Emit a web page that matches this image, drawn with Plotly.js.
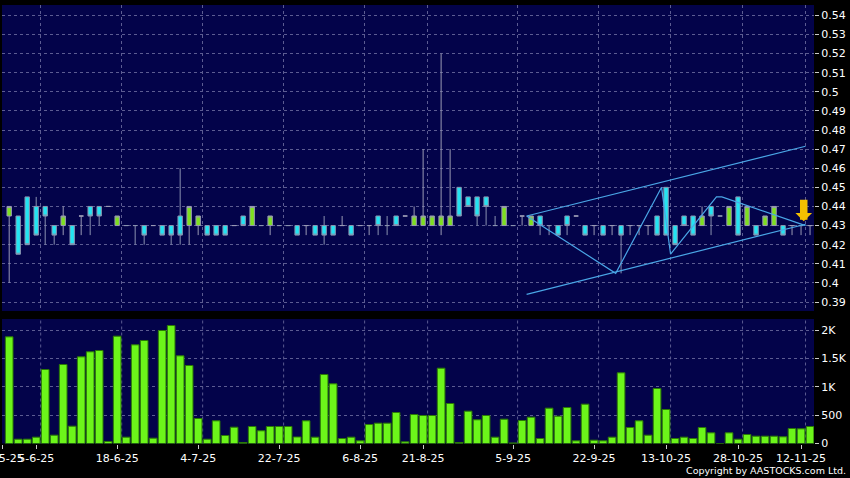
<!DOCTYPE html>
<html><head><meta charset="utf-8">
<script src="https://cdn.plot.ly/plotly-3.0.1.min.js"></script>
<style>html,body{margin:0;padding:0;background:#000;}#chart{width:850px;height:478px;}</style>
</head><body><div id="chart"></div>
<script>
// ---- data (one entry per trading session) ----
const openP  = [0.435,0.435,0.445,0.44,0.44,0.43,0.43,0.43,0.435,0.44,
                0.44,0.44,0.43,0.43,0.43,0.43,0.43,0.43,0.43,0.435,
                0.43,0.43,0.43,0.43,0.43,0.43,0.435,0.43,0.43,0.43,
                0.43,0.43,0.43,0.43,0.43,0.43,0.43,0.43,0.43,0.43,
                0.43,0.435,0.43,0.435,0.435,0.43,0.43,0.43,0.43,0.43,
                0.45,0.445,0.445,0.445,0.43,0.43,0.43,0.435,0.43,0.435,
                0.43,0.43,0.435,0.435,0.43,0.43,0.43,0.43,0.43,0.43,
                0.43,0.43,0.435,0.45,0.43,0.435,0.435,0.43,0.44,0.435,
                0.43,0.445,0.43,0.43,0.43,0.43,0.43,0.43,0.43,0.43];
const highP  = [0.44,0.435,0.445,0.445,0.44,0.43,0.44,0.43,0.435,0.44,
                0.44,0.44,0.435,0.43,0.43,0.43,0.43,0.43,0.43,0.46,
                0.44,0.435,0.43,0.43,0.43,0.43,0.435,0.44,0.43,0.435,
                0.43,0.43,0.43,0.43,0.43,0.435,0.43,0.435,0.43,0.43,
                0.43,0.435,0.435,0.435,0.435,0.44,0.47,0.435,0.52,0.47,
                0.45,0.445,0.445,0.445,0.435,0.44,0.43,0.435,0.435,0.435,
                0.43,0.43,0.435,0.435,0.43,0.43,0.43,0.43,0.43,0.43,
                0.43,0.43,0.435,0.45,0.43,0.435,0.435,0.44,0.44,0.435,
                0.44,0.445,0.44,0.43,0.435,0.44,0.43,0.43,0.43,0.43];
const lowP   = [0.40,0.415,0.42,0.425,0.42,0.42,0.425,0.42,0.425,0.425,
                0.43,0.44,0.43,0.43,0.42,0.42,0.43,0.425,0.42,0.42,
                0.42,0.425,0.425,0.425,0.425,0.43,0.43,0.43,0.43,0.425,
                0.43,0.43,0.425,0.425,0.425,0.42,0.425,0.43,0.425,0.43,
                0.425,0.425,0.425,0.43,0.435,0.43,0.43,0.43,0.425,0.43,
                0.435,0.44,0.43,0.43,0.43,0.43,0.43,0.43,0.43,0.425,
                0.425,0.425,0.425,0.435,0.425,0.425,0.425,0.425,0.405,0.425,
                0.425,0.425,0.425,0.425,0.42,0.43,0.425,0.43,0.425,0.435,
                0.43,0.425,0.43,0.425,0.43,0.43,0.425,0.425,0.425,0.425];
const closeP = [0.44,0.415,0.42,0.425,0.435,0.425,0.435,0.42,0.435,0.435,
                0.435,0.44,0.435,0.43,0.43,0.425,0.43,0.425,0.425,0.425,
                0.44,0.435,0.425,0.425,0.425,0.43,0.43,0.44,0.43,0.435,
                0.43,0.43,0.425,0.43,0.425,0.425,0.425,0.43,0.425,0.43,
                0.43,0.43,0.43,0.43,0.435,0.435,0.435,0.435,0.435,0.435,
                0.435,0.44,0.435,0.44,0.43,0.44,0.43,0.435,0.435,0.43,
                0.43,0.425,0.43,0.435,0.425,0.43,0.425,0.43,0.425,0.43,
                0.43,0.43,0.425,0.425,0.42,0.43,0.425,0.435,0.435,0.435,
                0.44,0.425,0.44,0.425,0.435,0.44,0.425,0.43,0.43,0.43];
const volume = [1882,76,76,112,1306,147,1394,306,1529,1618,
                1641,35,1894,112,1741,1818,94,1994,2082,1547,
                1376,441,76,400,141,288,18,300,224,300,
                300,300,115,400,112,1218,1053,88,112,47,
                335,359,359,547,29,512,494,494,1329,706,
                18,571,418,494,112,429,10,406,465,88,
                624,482,635,47,694,59,47,112,1247,282,
                400,147,971,600,88,112,88,282,188,0,
                188,76,159,129,129,129,118,265,259,300];

const dateTickPos  = [-0.78,3,12,21,30,39,46,56,65,73,81,88];
const dateTickText = ['30-5-25','5-6-25','18-6-25','4-7-25','22-7-25','6-8-25','21-8-25','5-9-25','22-9-25','13-10-25','28-10-25','12-11-25'];
const priceTicks    = [0.39,0.40,0.41,0.42,0.43,0.44,0.45,0.46,0.47,0.48,0.49,0.50,0.51,0.52,0.53,0.54];
const priceTickText = ['0.39','0.4','0.41','0.42','0.43','0.44','0.45','0.46','0.47','0.48','0.49','0.5','0.51','0.52','0.53','0.54'];
const volTicks    = [0,500,1000,1500,2000];
const volTickText = ['0','500','1K','1.5K','2K'];

// technical overlay (channel + zigzag) and signal arrow
const upperX = [57.5,88.5], upperY = [0.435,0.4715];
const lowerX = [57.5,88.5], lowerY = [0.394,0.4307];
const zigX = [57.5,67.4,72.5,73.5,78.6,79.2,88.5];
const zigY = [0.435,0.405,0.45,0.415,0.445,0.445,0.43];
const signalX = [88.3], signalY = [0.4322];

// ---- build ----
const idx = openP.map((_, i) => i);
const W = 850, H = 478;
const xDom = [2 / W, 814 / W];
const xRange = [-0.8, 89.44];
const gridColor = '#5c5c92';
const gridPos = dateTickPos.slice(1).map(t => t + 0.5);
const tickFont = {family: 'DejaVu Sans', size: 11, color: '#ffffff'};
const overlayLine = {color: '#4aa6e6', width: 1.2};

const traces = [
  {type: 'candlestick', x: idx, open: openP, high: highP, low: lowP, close: closeP,
   xaxis: 'x', yaxis: 'y', whiskerwidth: 0, hoverinfo: 'skip', showlegend: false,
   increasing: {line: {color: '#9a9ab4', width: 1}, fillcolor: '#7ee01e'},
   decreasing: {line: {color: '#8a92b0', width: 1}, fillcolor: '#22e4f2'}},
  {type: 'scatter', mode: 'lines', x: upperX, y: upperY, xaxis: 'x', yaxis: 'y', line: overlayLine, hoverinfo: 'skip', showlegend: false},
  {type: 'scatter', mode: 'lines', x: lowerX, y: lowerY, xaxis: 'x', yaxis: 'y', line: overlayLine, hoverinfo: 'skip', showlegend: false},
  {type: 'scatter', mode: 'lines', x: zigX, y: zigY, xaxis: 'x', yaxis: 'y', line: overlayLine, hoverinfo: 'skip', showlegend: false},
  {type: 'bar', x: idx, y: volume, xaxis: 'x2', yaxis: 'y2', hoverinfo: 'skip', showlegend: false,
   marker: {color: '#6cf51a', line: {color: '#2c7a06', width: 1}}}
];

const shapes = gridPos.map(g => ({type: 'line', xref: 'x2', yref: 'y2 domain', x0: g, x1: g, y0: 0, y1: 1,
  layer: 'below', line: {color: gridColor, width: 1, dash: '3px,3px'}}));

const layout = {
  width: W, height: H,
  margin: {l: 0, r: 0, t: 0, b: 0},
  paper_bgcolor: '#000000', plot_bgcolor: '#03034a',
  showlegend: false, bargap: 0.15,
  xaxis: {domain: xDom, range: xRange, anchor: 'y', rangeslider: {visible: false},
          tickvals: gridPos, showticklabels: false, ticks: '', showgrid: true,
          gridcolor: gridColor, griddash: '3px,3px', zeroline: false, fixedrange: true},
  yaxis: {domain: [1 - 311 / H, 1 - 5 / H], range: [0.3853, 0.5454], side: 'right', anchor: 'x',
          tickvals: priceTicks, ticktext: priceTickText, ticks: 'outside', ticklen: 4, tickcolor: '#cccccc',
          tickfont: tickFont, showgrid: true, gridcolor: gridColor, griddash: '3px,3px', zeroline: false},
  xaxis2: {domain: xDom, range: xRange, anchor: 'y2',
           tickvals: dateTickPos, ticktext: dateTickText, ticks: 'outside', ticklen: 4, tickcolor: '#cccccc',
           tickfont: tickFont, tickangle: 0, showgrid: false, zeroline: false, ticklabeloverflow: 'allow'},
  yaxis2: {domain: [1 - 443.5 / H, 1 - 319 / H], range: [0, 2197], side: 'right', anchor: 'x2',
           tickvals: volTicks, ticktext: volTickText, ticks: 'outside', ticklen: 4, tickcolor: '#cccccc',
           tickfont: tickFont, showgrid: true, gridcolor: gridColor, griddash: '3px,3px', zeroline: false},
  shapes: shapes,
  annotations: [
    {x: signalX[0], y: signalY[0], xref: 'x', yref: 'y', text: '', showarrow: true,
     arrowhead: 1, arrowsize: 0.37, arrowwidth: 7.5, arrowcolor: '#f3bf00', ax: 0, ay: -23},
    {text: 'Copyright by AASTOCKS.com Ltd.', xref: 'paper', yref: 'paper', x: 0.998, y: 0,
     xanchor: 'right', yanchor: 'bottom', showarrow: false,
     font: {family: 'DejaVu Sans', size: 9.5, color: '#ffffff'}}
  ]
};

Plotly.newPlot('chart', traces, layout, {displayModeBar: false, staticPlot: true});
</script>
</body></html>
